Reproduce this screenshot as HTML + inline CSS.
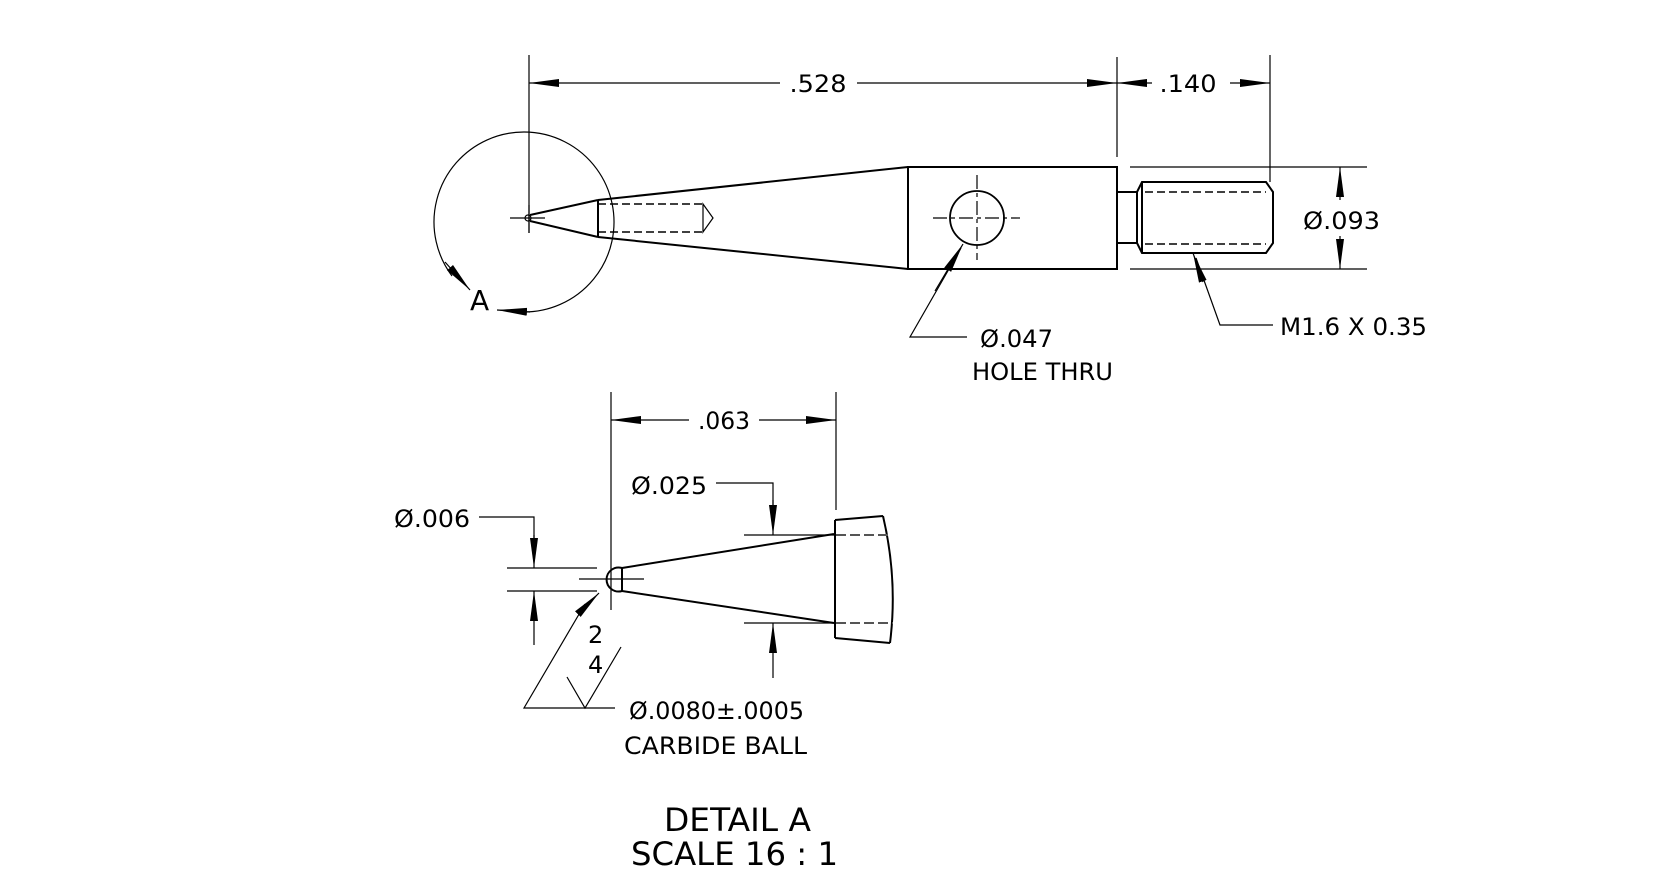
<!DOCTYPE html>
<html><head><meta charset="utf-8"><style>
html,body{margin:0;padding:0;background:#fff;}
svg{display:block;}
text{font-family:"DejaVu Sans","Liberation Sans",sans-serif;fill:#000;font-weight:normal;}
</style></head><body>
<svg width="1680" height="889" viewBox="0 0 1680 889" xmlns="http://www.w3.org/2000/svg">
<defs>
<marker id="ar" viewBox="0 0 30 10" refX="30" refY="5" markerWidth="30" markerHeight="10" markerUnits="userSpaceOnUse" orient="auto"><path d="M0,1 L30,5 L0,9 Z" fill="#000"/></marker>
</defs>
<g stroke="#000" fill="none" stroke-width="1.2">
<line x1="529" y1="55" x2="529" y2="233"/>
<line x1="1117" y1="57" x2="1117" y2="157"/>
<line x1="1270" y1="55" x2="1270" y2="182"/>
<line x1="780" y1="83" x2="529" y2="83" marker-end="url(#ar)"/>
<line x1="857" y1="83" x2="1117" y2="83" marker-end="url(#ar)"/>
<line x1="1152" y1="83" x2="1117" y2="83" marker-end="url(#ar)"/>
<line x1="1230" y1="83" x2="1270" y2="83" marker-end="url(#ar)"/>
<path d="M452,276 A90,90 0 1 1 523,312"/>
<g stroke-width="2">
<line x1="530" y1="215" x2="598" y2="200"/>
<line x1="530" y1="221" x2="598" y2="237"/>
<line x1="598" y1="200" x2="598" y2="237"/>
<line x1="598" y1="200" x2="908" y2="167"/>
<line x1="598" y1="237" x2="908" y2="269"/>
<rect x="908" y="167" width="209" height="102"/>
<line x1="1117" y1="192" x2="1137" y2="192"/>
<line x1="1117" y1="243" x2="1137" y2="243"/>
<path d="M1137,192 L1142,182 L1266,182 L1273,192 L1273,243 L1266,253 L1142,253 L1137,243 Z"/>
<line x1="1142" y1="182" x2="1142" y2="253"/>
</g>
<circle cx="528" cy="218" r="3"/>
<line x1="510" y1="218" x2="545" y2="218"/>
<line x1="529" y1="205" x2="529" y2="233"/>
<g stroke-dasharray="8,4" stroke-width="1.5">
<line x1="598" y1="204" x2="703" y2="204"/>
<line x1="598" y1="232" x2="703" y2="232"/>
<line x1="1145" y1="192" x2="1266" y2="192"/>
<line x1="1145" y1="244" x2="1266" y2="244"/>
</g>
<path d="M703,204 L713,218 L703,232 Z"/>
<circle cx="977" cy="218" r="27" stroke-width="1.8"/>
<g stroke-dasharray="14,4,4,4">
<line x1="933" y1="218" x2="1020" y2="218"/>
<line x1="977" y1="175" x2="977" y2="260"/>
</g>
<polyline points="967,337 910,337 961,248"/>
<line x1="935" y1="291" x2="963" y2="244" marker-end="url(#ar)"/>
<line x1="1130" y1="167" x2="1367" y2="167"/>
<line x1="1130" y1="269" x2="1367" y2="269"/>
<line x1="1340" y1="200" x2="1340" y2="167" marker-end="url(#ar)"/>
<line x1="1340" y1="236" x2="1340" y2="269" marker-end="url(#ar)"/>
<polyline points="1273,325 1220,325 1196,258"/>
<line x1="1203" y1="282" x2="1193" y2="253" marker-end="url(#ar)"/>
<line x1="445" y1="262" x2="470" y2="290" marker-end="url(#ar)"/>
<line x1="530" y1="312" x2="497" y2="310" marker-end="url(#ar)"/>

<line x1="611" y1="392" x2="611" y2="610"/>
<line x1="836" y1="392" x2="836" y2="510"/>
<line x1="689" y1="420" x2="611" y2="420" marker-end="url(#ar)"/>
<line x1="759" y1="420" x2="836" y2="420" marker-end="url(#ar)"/>
<polyline points="716,483 773,483 773,505"/>
<line x1="773" y1="500" x2="773" y2="535" marker-end="url(#ar)"/>
<line x1="744" y1="535" x2="834" y2="535"/>
<line x1="744" y1="623" x2="834" y2="623"/>
<line x1="773" y1="678" x2="773" y2="623" marker-end="url(#ar)"/>
<g stroke-width="2">
<line x1="622" y1="568" x2="834" y2="534"/>
<line x1="622" y1="591" x2="834" y2="623"/>
<line x1="835" y1="520" x2="835" y2="638"/>
<line x1="835" y1="520" x2="883" y2="516"/>
<line x1="835" y1="638" x2="890" y2="643"/>
<path d="M883,516 Q898,580 890,643"/>
<path d="M622,568 A12,12 0 1 0 622,591 Z"/>
</g>
<g stroke="#555" stroke-dasharray="10,4" stroke-width="2">
<line x1="836" y1="535" x2="891" y2="535"/>
<line x1="836" y1="623" x2="893" y2="623"/>
</g>
<line x1="579" y1="579" x2="644" y2="579"/>
<polyline points="479,517 534,517 534,540"/>
<line x1="534" y1="535" x2="534" y2="568" marker-end="url(#ar)"/>
<line x1="507" y1="568" x2="597" y2="568"/>
<line x1="507" y1="591" x2="597" y2="591"/>
<line x1="534" y1="645" x2="534" y2="591" marker-end="url(#ar)"/>
<polyline points="615,708 524,708 585,604"/>
<line x1="580" y1="612" x2="599" y2="593" marker-end="url(#ar)"/>
<polyline points="567,677 585,708 621,647"/>
</g>
<g font-size="24">
<text x="818" y="92" text-anchor="middle" textLength="57" lengthAdjust="spacingAndGlyphs">.528</text>
<text x="1188" y="92" text-anchor="middle" textLength="57" lengthAdjust="spacingAndGlyphs">.140</text>
<text x="1303" y="229" textLength="77" lengthAdjust="spacingAndGlyphs">Ø.093</text>
<text x="980" y="347" textLength="73" lengthAdjust="spacingAndGlyphs">Ø.047</text>
<text x="972" y="380" textLength="141" lengthAdjust="spacingAndGlyphs">HOLE THRU</text>
<text x="1280" y="335" textLength="147" lengthAdjust="spacingAndGlyphs">M1.6 X 0.35</text>
<text x="470" y="310" font-size="28">A</text>
<text x="724" y="429" text-anchor="middle" textLength="52" lengthAdjust="spacingAndGlyphs">.063</text>
<text x="631" y="494" textLength="76" lengthAdjust="spacingAndGlyphs">Ø.025</text>
<text x="394" y="527" textLength="76" lengthAdjust="spacingAndGlyphs">Ø.006</text>
<text x="588" y="643">2</text>
<text x="588" y="673">4</text>
<text x="629" y="719" textLength="175" lengthAdjust="spacingAndGlyphs">Ø.0080±.0005</text>
<text x="624" y="754" textLength="183" lengthAdjust="spacingAndGlyphs">CARBIDE BALL</text>
<text x="664" y="831" font-size="32" textLength="147" lengthAdjust="spacingAndGlyphs">DETAIL A</text>
<text x="631" y="865" font-size="32" textLength="207" lengthAdjust="spacingAndGlyphs">SCALE 16 : 1</text>
</g>
</svg>
</body></html>
